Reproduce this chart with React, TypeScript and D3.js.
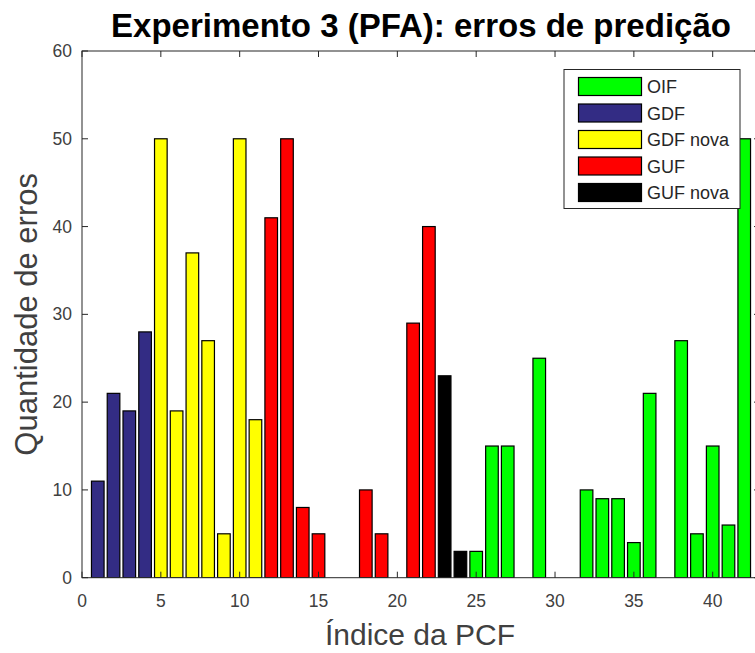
import React, { useEffect, useRef } from "react";
import * as d3 from "d3";

const indices = d3.range(1, 43);
const values = [
  11, 21, 19, 28, 50, 19, 37, 27, 5, 50, 18, 41, 50, 8, 5, 0, 0, 10, 5, 0, 29,
  40, 23, 3, 3, 15, 15, 0, 25, 0, 0, 10, 9, 9, 4, 21, 0, 27, 5, 15, 6, 50,
];
const groups = [
  "GDF", "GDF", "GDF", "GDF",
  "GDF nova", "GDF nova", "GDF nova", "GDF nova", "GDF nova", "GDF nova", "GDF nova",
  "GUF", "GUF", "GUF", "GUF", "GUF", "GUF", "GUF", "GUF", "GUF", "GUF", "GUF",
  "GUF nova", "GUF nova",
  "OIF", "OIF", "OIF", "OIF", "OIF", "OIF", "OIF", "OIF", "OIF", "OIF", "OIF",
  "OIF", "OIF", "OIF", "OIF", "OIF", "OIF", "OIF",
];
const legendNames = ["OIF", "GDF", "GDF nova", "GUF", "GUF nova"];
const legendColors = ["#00ff00", "#332c84", "#ffff00", "#ff0000", "#000000"];
const xTicks = [0, 5, 10, 15, 20, 25, 30, 35, 40];
const yTicks = [0, 10, 20, 30, 40, 50, 60];
const title = "Experimento 3 (PFA): erros de predição";
const xLabel = "Índice da PCF";
const yLabel = "Quantidade de erros";

export default function App() {
  const ref = useRef<SVGSVGElement>(null);
  useEffect(() => {
    document.body.style.margin = "0";
    const svg = d3.select(ref.current);
    svg.selectAll("*").remove();
    const W = 755, H = 653;
    const L = 82, R = 760, T = 51, B = 577.7;
    const x = d3.scaleLinear().domain([0, 43]).range([L, R]);
    const y = d3.scaleLinear().domain([0, 60]).range([B, T]);
    const color = d3.scaleOrdinal<string, string>().domain(legendNames).range(legendColors);
    const font = "'Liberation Sans', Arial, Helvetica, sans-serif";
    const axisCol = "#262626";

    svg.append("rect").attr("width", W).attr("height", H).attr("fill", "#fff");

    svg.append("defs").append("clipPath").attr("id", "clip")
      .append("rect").attr("x", L).attr("y", T).attr("width", R - L).attr("height", B - T);

    const bw = (x(1) - x(0)) * 0.8;
    svg.append("g").attr("clip-path", "url(#clip)")
      .selectAll("rect").data(indices.filter((_, i) => values[i] > 0))
      .join("rect")
      .attr("x", (d) => x(d) - bw / 2)
      .attr("y", (d) => y(values[d - 1]))
      .attr("width", bw)
      .attr("height", (d) => B - y(values[d - 1]))
      .attr("fill", (d) => color(groups[d - 1]))
      .attr("stroke", "#000")
      .attr("stroke-width", 1.2);

    // axes box
    const g = svg.append("g");
    g.append("rect").attr("x", L).attr("y", T).attr("width", R - L).attr("height", B - T)
      .attr("fill", "none").attr("stroke", axisCol).attr("stroke-width", 1);
    const tl = 6;
    xTicks.forEach((t) => {
      g.append("line").attr("x1", x(t)).attr("x2", x(t)).attr("y1", B).attr("y2", B - tl).attr("stroke", axisCol);
      g.append("line").attr("x1", x(t)).attr("x2", x(t)).attr("y1", T).attr("y2", T + tl).attr("stroke", axisCol);
      g.append("text").attr("x", x(t)).attr("y", 607).attr("text-anchor", "middle")
        .attr("font-family", font).attr("font-size", 17.5).attr("fill", "#404040").text(t);
    });
    yTicks.forEach((t) => {
      g.append("line").attr("x1", L).attr("x2", L + tl).attr("y1", y(t)).attr("y2", y(t)).attr("stroke", axisCol);
      g.append("line").attr("x1", R).attr("x2", R - tl).attr("y1", y(t)).attr("y2", y(t)).attr("stroke", axisCol);
      g.append("text").attr("x", 72).attr("y", y(t) + 6).attr("text-anchor", "end")
        .attr("font-family", font).attr("font-size", 17.5).attr("fill", "#404040").text(t);
    });

    svg.append("text").attr("x", 421).attr("y", 37).attr("text-anchor", "middle")
      .attr("font-family", font).attr("font-weight", "bold").attr("font-size", 33)
      .attr("fill", "#000").text(title);
    svg.append("text").attr("x", 420).attr("y", 645).attr("text-anchor", "middle")
      .attr("font-family", font).attr("font-size", 30).attr("fill", "#404040").text(xLabel);
    svg.append("text").attr("transform", `translate(37,${(T + B) / 2}) rotate(-90)`)
      .attr("text-anchor", "middle")
      .attr("font-family", font).attr("font-size", 31).attr("fill", "#404040").text(yLabel);

    // legend
    const lg = svg.append("g");
    lg.append("rect").attr("x", 564).attr("y", 69.5).attr("width", 176).attr("height", 139)
      .attr("fill", "#fff").attr("stroke", "#262626").attr("stroke-width", 1);
    legendNames.forEach((n, i) => {
      const yy = 77.5 + i * 26.5;
      lg.append("rect").attr("x", 578.5).attr("y", yy).attr("width", 63).attr("height", 18)
        .attr("fill", legendColors[i]).attr("stroke", "#000").attr("stroke-width", 1.2);
      lg.append("text").attr("x", 647).attr("y", yy + 15.5)
        .attr("font-family", font).attr("font-size", 18).attr("fill", "#262626").text(n);
    });
  }, []);
  return <svg ref={ref} width={755} height={653} style={{ display: "block" }} />;
}
